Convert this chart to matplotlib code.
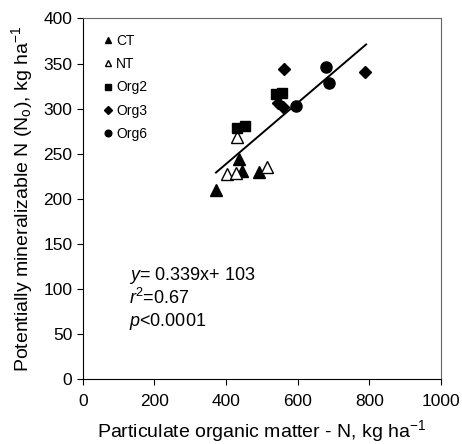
import matplotlib.pyplot as plt
import numpy as np

plt.rcParams['font.family'] = ['Liberation Sans', 'DejaVu Sans']
plt.rcParams['mathtext.fontset'] = 'custom'
plt.rcParams['mathtext.rm'] = 'Liberation Sans'
plt.rcParams['mathtext.it'] = 'Liberation Sans:italic'

# POM-N (x) and No (y), kg/ha
ct_x = [372, 435, 446, 493]
ct_y = [210, 244, 231, 230]
nt_x = [404, 427, 431, 515]
nt_y = [228, 229, 269, 235]
org2_x = [430, 452, 539, 556]
org2_y = [279, 281, 316, 317]
org3_x = [546, 558, 562, 789]
org3_y = [306, 302, 344, 341]
org6_x = [594, 679, 687]
org6_y = [303, 346, 328]

slope = 0.339
intercept = 103
fit_x = [372, 791]

fig = plt.figure(figsize=(4.62, 4.44), dpi=100)
ax = fig.add_axes([0.179, 0.146, 0.7755, 0.8125])

ax.plot(ct_x, ct_y, '^', color='black', ms=8, label='CT', mew=1)
ax.plot(nt_x, nt_y, '^', mfc='white', mec='black', ms=8, label='NT', mew=1)
ax.plot(org2_x, org2_y, 's', color='black', ms=7.5, label='Org2')
ax.plot(org3_x, org3_y, 'D', color='black', ms=6.5, label='Org3')
ax.plot(org6_x, org6_y, 'o', color='black', ms=8, label='Org6')

fx = np.array(fit_x)
ax.plot(fx, slope * fx + intercept, color='black', lw=1.4)

ax.text(128, 115, '$y$= 0.339x+ 103', fontsize=13, va='center')
ax.text(128, 90, '$r$$^2$=0.67', fontsize=13, va='center')
ax.text(128, 64, '$p$<0.0001', fontsize=13, va='center')

ax.legend(loc='upper left', frameon=False, fontsize=10, markerscale=0.6,
          handlelength=0.5, handletextpad=0.3, labelspacing=0.68,
          borderaxespad=0.3, bbox_to_anchor=(0.035, 0.985))

ax.set_xlim(0, 1000)
ax.set_ylim(0, 400)
ax.set_xticks([0, 200, 400, 600, 800, 1000])
ax.set_yticks(np.arange(0, 401, 50))
ax.tick_params(direction='out', length=4, labelsize=12.5, top=False, right=False)
ax.tick_params(axis='x', pad=7)
for s in ['top', 'right']:
    ax.spines[s].set_color('#666666')
ax.set_xlabel('Particulate organic matter - N, kg ha$^{-1}$', fontsize=14, labelpad=6)
ax.set_ylabel('Potentially mineralizable N (N$_{\\rm o}$), kg ha$^{-1}$', fontsize=14, labelpad=6)

fig.savefig('out.png', dpi=100)
plt.close()
